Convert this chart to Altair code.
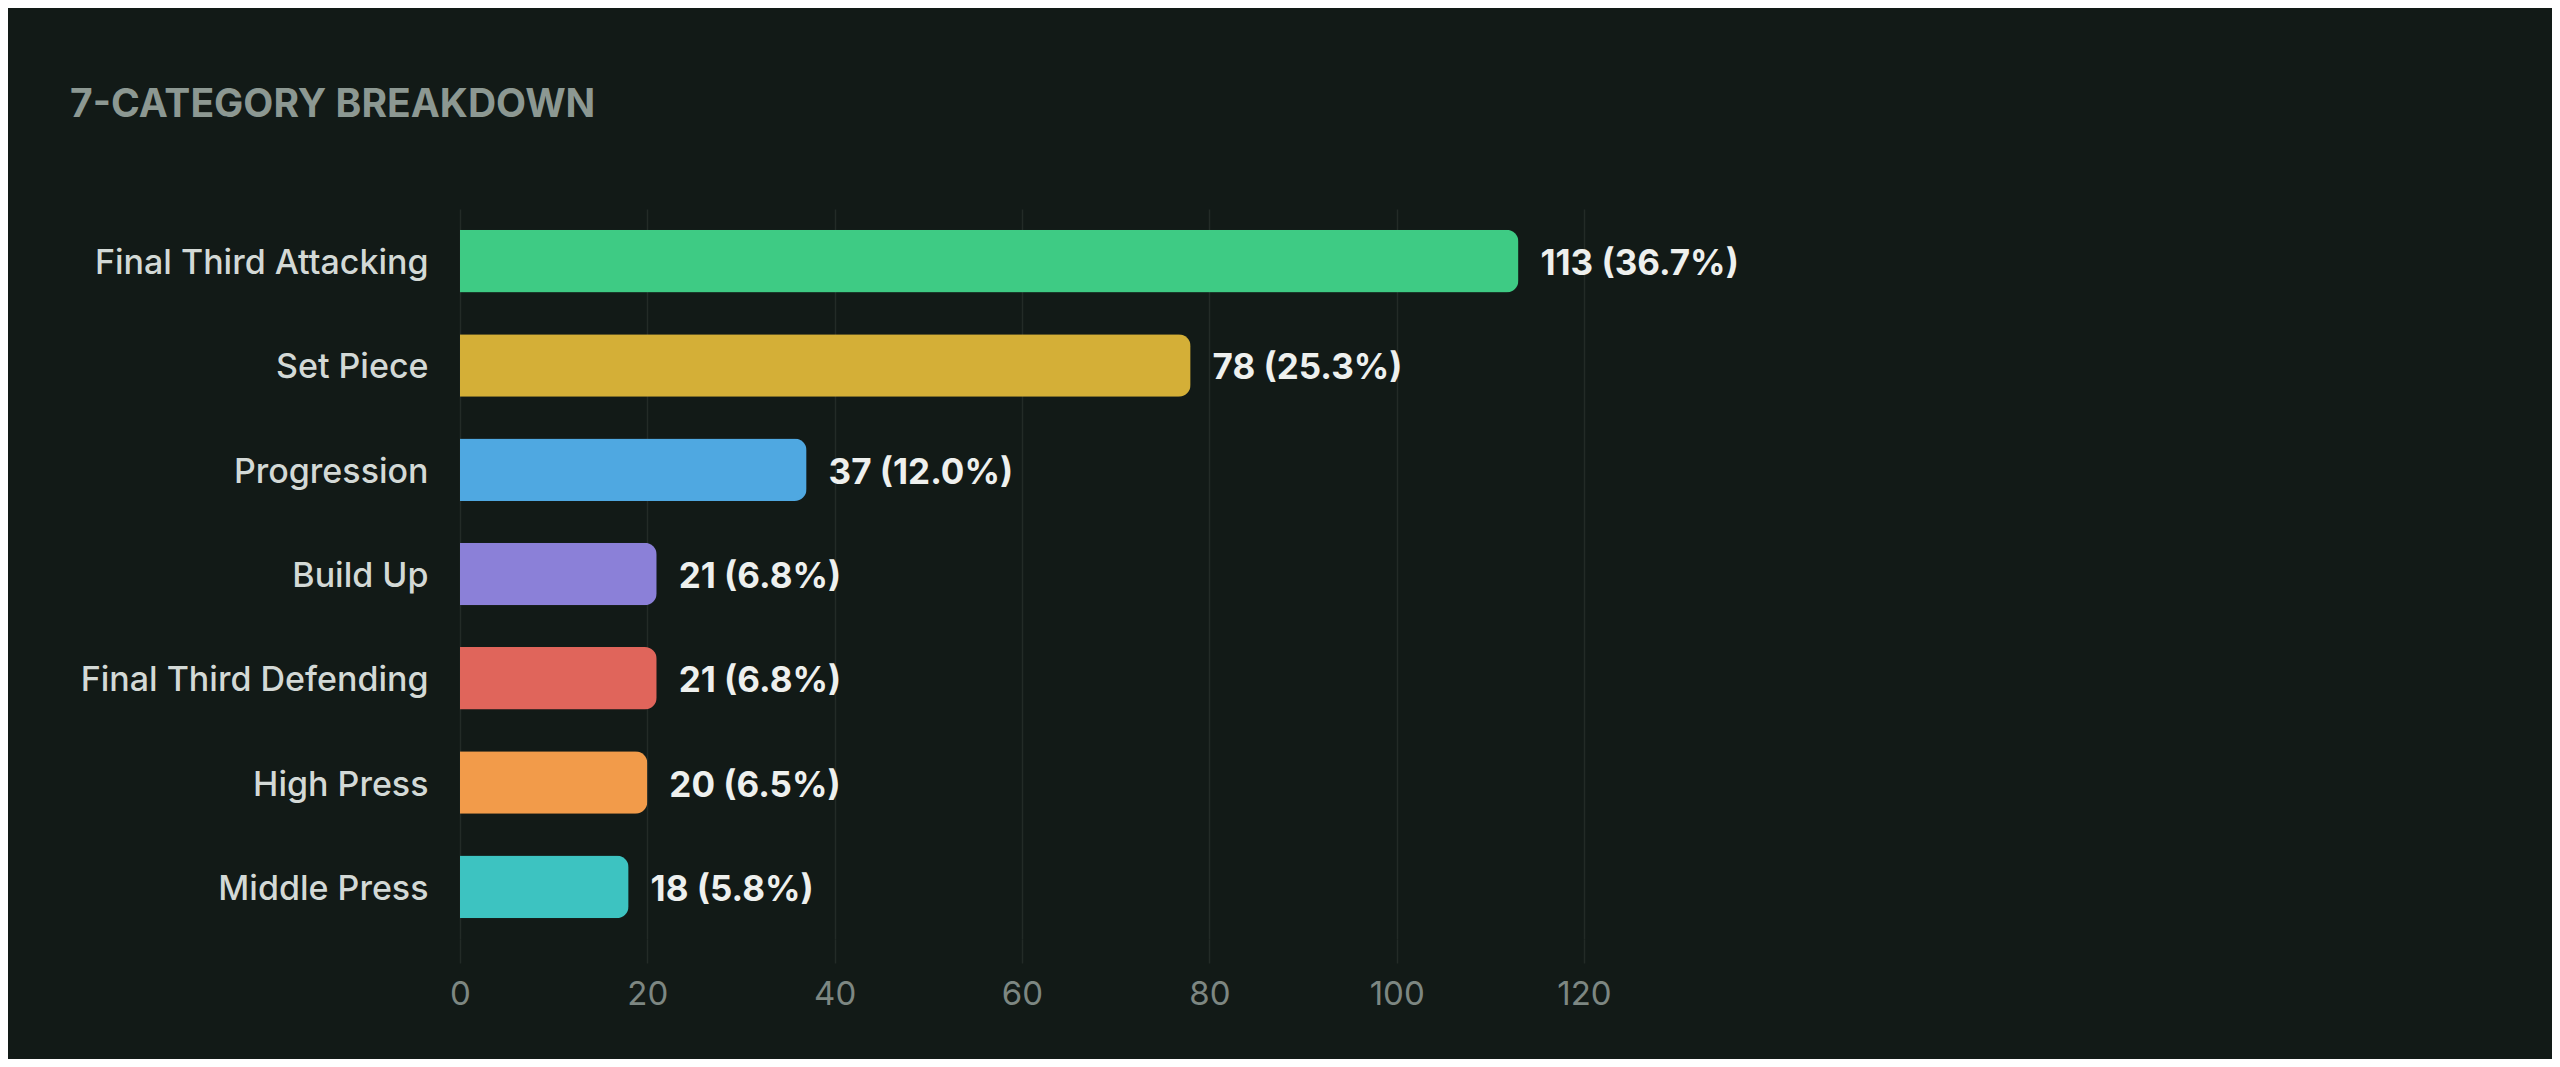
import altair as alt
import pandas as pd

categories = ["Final Third Attacking", "Set Piece", "Progression", "Build Up",
              "Final Third Defending", "High Press", "Middle Press"]
counts = [113, 78, 37, 21, 21, 20, 18]
percents = ["36.7%", "25.3%", "12.0%", "6.8%", "6.8%", "6.5%", "5.8%"]
colors = ["#3ecb84", "#d4af37", "#4fa8e1", "#8b80d8", "#e0655b", "#f29b4a", "#3dc3c1"]
x_ticks = [0, 20, 40, 60, 80, 100, 120]

df = pd.DataFrame({
    "category": categories,
    "count": counts,
    "label": [f"{c} ({p})" for c, p in zip(counts, percents)],
})

BG = "#121a17"

y_enc = alt.Y("category:N", sort=categories, title=None,
              scale=alt.Scale(paddingInner=0.4, paddingOuter=0.2),
              axis=alt.Axis(labelFont="Inter", labelFontSize=34, labelFontWeight=500,
                            labelLimit=0, labelOffset=3,
                            labelColor="#d3d9d6", labelPadding=32, ticks=False,
                            domain=False, grid=False))

x_enc = alt.X("count:Q", title=None,
              scale=alt.Scale(domain=[0, 120], nice=False),
              axis=alt.Axis(values=x_ticks, labelFont="Inter", labelFontSize=33,
                            labelFlush=False,
                            labelColor="#7d8782", labelPadding=15, tickSize=24,
                            tickColor="#232b27", tickWidth=1.5, domain=False,
                            grid=True, gridColor="#232b27", gridWidth=1.5))

bars = alt.Chart(df).mark_bar(cornerRadiusEnd=12).encode(
    x=x_enc,
    y=y_enc,
    color=alt.Color("category:N", sort=categories,
                    scale=alt.Scale(domain=categories, range=colors), legend=None),
)

text = alt.Chart(df).mark_text(align="left", baseline="middle", dx=22, dy=3,
                               font="Inter", fontSize=35, fontWeight="bold",
                               color="#eef0ee").encode(
    x="count:Q",
    y=alt.Y("category:N", sort=categories),
    text="label:N",
)

chart = alt.layer(bars, text).properties(
    width=1124,
    height=730,
    background=BG,
    padding={"left": 452, "top": 201, "right": 968, "bottom": 120},
    autosize=alt.AutoSizeParams(type="none"),
    title=alt.TitleParams("7-CATEGORY BREAKDOWN", anchor="start", frame="group",
                          dx=-390, offset=53, baseline="alphabetic",
                          font="Inter", fontSize=39, fontWeight="bold",
                          color="#8c9892"),
).configure_view(stroke=None)

chart.save("out.html", embed_options={"renderer": "svg", "actions": False})
